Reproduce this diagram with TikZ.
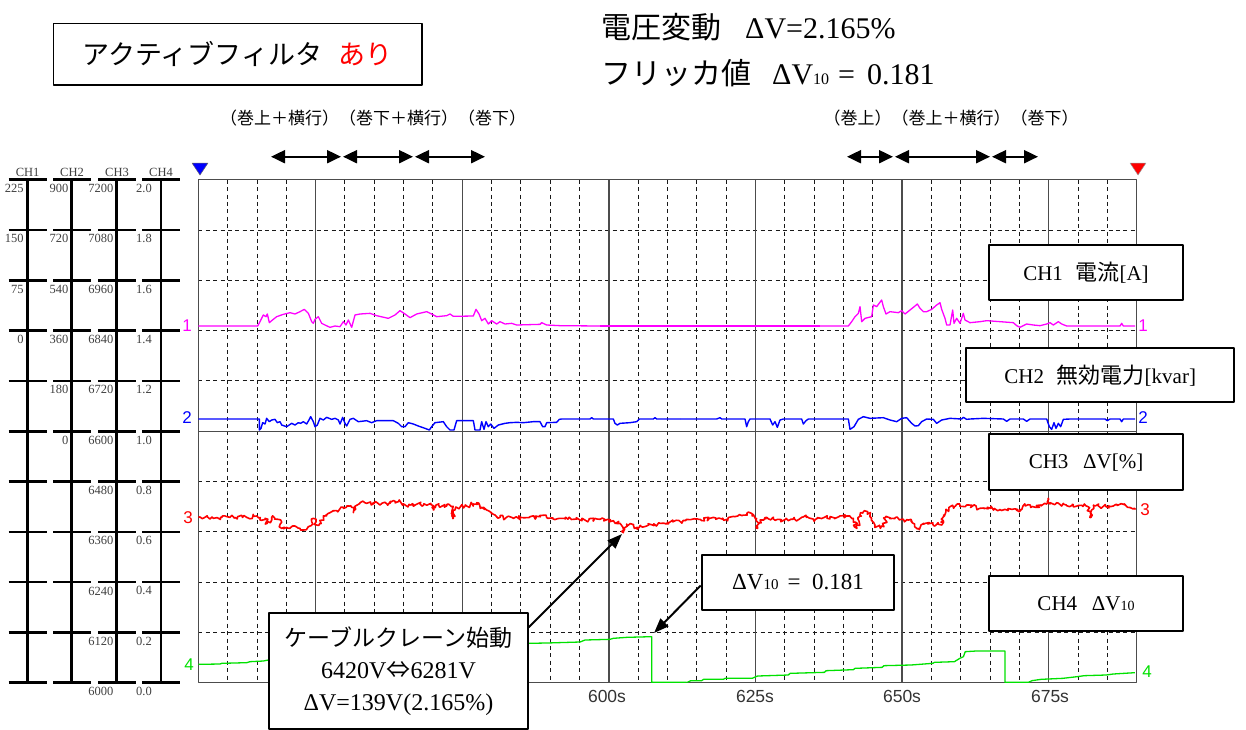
\documentclass[tikz,border=0pt]{standalone}
\usepackage{fontspec}
\setmainfont{Liberation Serif}
\newfontfamily\jp{Noto Sans CJK JP}
\newfontfamily\gs{Liberation Sans}
\usetikzlibrary{arrows.meta,decorations.pathmorphing}
\newcommand\fsz[1]{\fontsize{#1}{#1}\selectfont}
\definecolor{cmag}{RGB}{255,0,255}
\definecolor{cblu}{RGB}{0,0,255}
\definecolor{cred}{RGB}{255,0,0}
\definecolor{cgrn}{RGB}{0,225,0}
\begin{document}
\begin{tikzpicture}[x=1pt,y=-1pt,line join=round,
  dgrid/.style={black!90,line width=0.9pt,dash pattern=on 4pt off 3.4pt},
  sgrid/.style={black!70,line width=1.4pt},
  scaleln/.style={black,line width=2.6pt},
  sclab/.style={font=\fsz{12.5},text=black!75,inner sep=0pt},
  lbox/.style={draw=black,line width=2pt,fill=white,inner sep=0pt},
  tr1/.style={cmag,line width=1.3pt},
  tr2/.style={cblu,line width=1.4pt},
  tr3/.style={cred,line width=1.6pt},
  tr4/.style={cgrn,line width=1.3pt},
  noisy/.style={decorate,decoration={random steps,segment length=1.8pt,amplitude=2.2pt}},
  dbl/.style={line width=2pt,{Triangle[length=14pt,width=13pt]}-{Triangle[length=14pt,width=13pt]}},
  callout/.style={line width=2pt,-{Triangle[length=15pt,width=11pt]}},
  chnum/.style={font=\gs\fsz{17},inner sep=0pt},
  tlab/.style={font=\gs\fsz{17.5},text=black!80,inner sep=0pt}]

\fill[white] (0,0) rectangle (1246,729);
\useasboundingbox (0,0) rectangle (1246,729);

% ---------- left scale ----------
\foreach \k in {0,...,10}{
  \pgfmathsetmacro\yy{179.7+50.3*\k}
  \draw[scaleln] (8.5,\yy) -- (47,\yy) (53,\yy) -- (91,\yy) (98,\yy) -- (136,\yy) (142,\yy) -- (180,\yy);
}
\foreach \xx in {27.3,71.7,116.7,161}{\draw[scaleln] (\xx,179.7) -- (\xx,682.7);}
\node[sclab] (hc1) at (27.6,172.5) {CH1};
\node[sclab] (hc2) at (72,172.5) {CH2};
\node[sclab] (hc3) at (117,172.5) {CH3};
\node[sclab] (hc4) at (161,172.5) {CH4};
\foreach \v [count=\k from 0] in {225,150,75,0}
  \node[sclab,anchor=east] (la\k) at (23.8,{188.5+50.3*\k}) {\v};
\foreach \v [count=\k from 0] in {900,720,540,360,180,0}
  \node[sclab,anchor=east] (lb\k) at (68.5,{188.5+50.3*\k}) {\v};
\foreach \v [count=\k from 0] in {7200,7080,6960,6840,6720,6600,6480,6360,6240,6120,6000}
  \node[sclab,anchor=east] (lc\k) at (113.5,{188.5+50.3*\k}) {\v};
\foreach \v [count=\k from 0] in {2.0,1.8,1.6,1.4,1.2,1.0,0.8,0.6,0.4,0.2,0.0}
  \node[sclab,anchor=east] (ld\k) at (152,{188.5+50.3*\k}) {\v};

% ---------- plot grid ----------
\foreach \i in {1,...,31}{\draw[dgrid] ({198.3+29.325*\i},179.7) -- ({198.3+29.325*\i},682.7);}
\foreach \k in {1,2,3,4,6,7,8,9}{\draw[dgrid] (198.3,{179.7+50.3*\k}) -- (1136.7,{179.7+50.3*\k});}
\foreach \i in {4,9,14,19,24,29}{\draw[sgrid] ({198.3+29.325*\i},179.7) -- ({198.3+29.325*\i},682.7);}
\draw[sgrid] (198.3,431.2) -- (1136.7,431.2);
\draw[sgrid] (198.3,179.7) rectangle (1136.7,682.7);

% markers
\filldraw[fill=cblu,draw=black!60,line width=0.5pt] (192,163) -- (208,163) -- (200,175) -- cycle;
\filldraw[fill=cred,draw=black!40,line width=0.5pt] (1130,163) -- (1146,163) -- (1138,175) -- cycle;

% time labels
\node[tlab] (t600) at (607,696) {600s};
\node[tlab] (t625) at (755,696) {625s};
\node[tlab] (t650) at (902,696) {650s};
\node[tlab] (t675) at (1050,696) {675s};

% channel numbers
\node[chnum,text=cmag] (n1l) at (187,326) {1};
\node[chnum,text=cblu] (n2l) at (187,418) {2};
\node[chnum,text=cred] (n3l) at (188,518) {3};
\node[chnum,text=cgrn] (n4l) at (189,665) {4};
\node[chnum,text=cmag] (n1r) at (1143,326) {1};
\node[chnum,text=cblu] (n2r) at (1143,418) {2};
\node[chnum,text=cred] (n3r) at (1145,510) {3};
\node[chnum,text=cgrn] (n4r) at (1147,672) {4};

% ---------- CH1 trace ----------
\begin{scope}[shift={(180,150)},scale=1/3]
\draw[tr1] plot coordinates {(55,528) (233,528) (240,515) (250,495) (258,500) (262,492) (268,518) (275,512) (290,500) (310,493) (330,488) (345,492) (360,485) (373,478) (385,490) (395,515) (400,520) (405,508) (415,500) (425,520) (435,525) (450,532) (465,528) (480,530) (490,515) (498,525) (505,510) (515,532) (525,495) (540,492) (570,490) (590,497) (625,505) (645,495) (660,482) (675,492) (690,503) (710,492) (740,485) (755,492) (770,500) (800,497) (810,492) (820,499) (880,498) (888,478) (897,492) (905,512) (915,505) (925,522) (935,512) (950,522) (960,515) (975,522) (995,520) (1010,525) (1080,523) (1085,518) (1100,525) (1140,527) (1260,528)};
\end{scope}
\draw[tr1] (600,326) -- (820,326);
\begin{scope}[shift={(820,150)},scale=1/3]
\draw[tr1] plot coordinates {(0,528) (85,528) (95,515) (105,500) (115,490) (120,470) (125,515) (135,505) (155,500) (160,465) (170,470) (185,450) (190,470) (198,492) (210,485) (235,488) (245,482) (255,492) (270,480) (285,468) (292,462) (300,475) (310,485) (320,485) (335,478) (350,465) (360,458) (365,478) (375,505) (380,525) (390,525) (398,480) (402,520) (410,505) (420,520) (430,490) (435,510) (450,518) (480,515) (500,512) (540,515) (580,518) (590,527) (600,532) (620,522) (640,525) (660,527) (680,522) (690,518) (700,525) (715,515) (725,522) (740,528) (900,528) (905,520) (910,528) (945,528)};
\end{scope}

% ---------- CH2 trace ----------
\begin{scope}[shift={(180,380)},scale=1/3]
\draw[tr2] plot coordinates {(55,117) (238,117) (238,150) (243,145) (248,128) (255,132) (260,115) (268,125) (275,120) (285,118) (292,128) (300,125) (305,135) (320,140) (335,130) (345,135) (355,128) (362,130) (370,125) (380,132) (388,118) (392,110) (400,125) (405,140) (412,135) (420,115) (430,120) (440,112) (455,118) (465,115) (475,120) (480,132) (488,112) (495,130) (500,138) (510,118) (520,115) (535,125) (560,122) (575,128) (590,122) (640,122) (655,130) (665,140) (675,140) (685,128) (700,132) (715,138) (735,145) (748,150) (755,140) (765,128) (790,125) (800,140) (810,150) (822,150) (830,122) (880,122) (885,150) (900,150) (905,125) (912,148) (918,125) (925,140) (932,132) (942,145) (955,135) (975,130) (990,128) (1010,127) (1030,128) (1060,125) (1080,125) (1088,140) (1095,140) (1100,128) (1130,127) (1138,118) (1145,117) (1230,117) (1235,113) (1240,117) (1300,117) (1305,130) (1312,135) (1320,130) (1350,128) (1370,125) (1378,117) (1420,117) (1425,113) (1430,117) (1500,117)};
\end{scope}
\begin{scope}[shift={(650,380)},scale=1/3]
\draw[tr2] plot coordinates {(90,117) (200,117) (210,113) (215,117) (285,117) (290,140) (295,125) (300,117) (360,117) (368,135) (375,125) (382,142) (390,120) (400,117) (455,117) (460,132) (468,122) (475,117) (595,117) (600,148) (612,140) (625,118) (640,110) (660,115) (700,113) (720,120) (740,125) (755,115) (770,113) (785,130) (795,138) (805,137) (815,125) (830,117) (850,118) (860,130) (875,120) (900,115) (935,117) (940,112) (950,118) (960,117) (1000,115) (1060,117) (1070,124) (1080,117) (1120,117) (1130,124) (1140,117) (1190,117) (1198,140) (1205,148) (1212,128) (1218,145) (1225,130) (1232,140) (1240,118) (1260,117) (1365,117) (1372,122) (1380,117) (1410,117) (1415,125) (1420,117) (1455,117)};
\end{scope}

% ---------- CH3 trace ----------
\pgfmathsetseed{7}
\begin{scope}[shift={(180,430)},scale=1/3]
\draw[tr3,noisy] plot coordinates {(55,262) (100,265) (150,262) (200,262) (230,258) (240,270) (255,265) (262,280) (275,262) (295,268) (305,295) (320,292) (345,288) (360,295) (372,300) (385,290) (395,275) (400,265) (410,285) (420,280) (430,258) (445,250) (455,245) (470,242) (490,235) (500,228) (515,232) (520,248) (525,232) (540,218) (560,220) (580,218) (600,225) (630,220) (655,215) (670,222) (690,225) (720,222) (750,222) (760,240) (768,225) (800,228) (815,230) (820,265) (825,240) (830,232) (860,228) (880,222) (890,218) (905,232) (920,240) (935,248) (945,255) (960,262) (1000,265) (1050,260) (1100,262) (1140,265) (1200,270) (1260,268) (1300,272) (1320,280) (1330,308) (1340,282) (1360,285) (1370,295) (1400,288) (1440,280) (1500,274)};
\end{scope}
\begin{scope}[shift={(680,430)},xscale=1/2.77,yscale=1/3]
\draw[tr3,noisy] plot coordinates {(0,274) (50,268) (100,265) (130,268) (160,258) (185,250) (200,258) (212,265) (215,295) (222,270) (240,262) (270,268) (300,272) (350,262) (375,268) (400,262) (440,260) (470,258) (480,265) (490,295) (500,248) (520,245) (530,270) (540,285) (555,295) (565,290) (570,262) (590,265) (620,270) (640,268) (650,290) (660,295) (680,280) (700,283) (715,278) (725,285) (730,255) (745,232) (760,230) (775,222) (790,230) (800,225) (830,235) (860,235) (880,242) (900,238) (920,238) (940,245) (950,228) (970,225) (985,232) (1000,225) (1010,220) (1020,205) (1025,222) (1040,222) (1070,225) (1100,228) (1120,222) (1130,230) (1135,262) (1140,240) (1150,228) (1180,230) (1200,228) (1220,222) (1240,232) (1262,238)};
\end{scope}

% ---------- CH4 trace ----------
\begin{scope}[shift={(180,430)},scale=1/3]
\draw[tr4] plot coordinates {(55,703) (120,702) (125,700) (200,698) (210,695) (250,693) (265,690) (300,688) (600,675) (900,660) (1043,640) (1100,639) (1200,636) (1215,630) (1290,628) (1300,625) (1340,622) (1415,620) (1415,757) (1520,757)};
\end{scope}
\begin{scope}[shift={(680,430)},xscale=1/2.77,yscale=1/3]
\draw[tr4] plot coordinates {(20,757) (30,752) (60,752) (65,748) (120,748) (125,745) (200,745) (210,740) (215,738) (300,735) (305,730) (400,727) (405,722) (480,719) (485,715) (560,712) (565,707) (640,705) (700,700) (705,697) (760,695) (775,685) (785,680) (790,665) (820,663) (900,663) (900,757) (965,757) (975,752) (1000,748) (1060,745) (1100,740) (1120,737) (1180,735) (1200,732) (1260,728)};
\end{scope}

% ---------- titles ----------
\node[draw=black,line width=1.5pt,fill=white,minimum width=368.6pt,minimum height=61.7pt,inner sep=0pt] (title) at (237.7,54.2)
  {\jp\fsz{27}アクティブフィルタ\hspace{0.6em}\textcolor{cred}{あり}};
\node[anchor=west,inner sep=0pt] (hv) at (601,27)
  {\jp\fsz{30}電圧変動\hspace{0.8em}{\rmfamily\fsz{30}ΔV=2.165\%}};
\node[anchor=west,inner sep=0pt] (hf) at (601,73)
  {\jp\fsz{30}フリッカ値\hspace{0.7em}{\rmfamily\fsz{30}ΔV{\fsz{16}10}\hspace{0.3em}=\hspace{0.4em}0.181}};

% ---------- operation annotations ----------
\node[inner sep=0pt] (ann1) at (373,118) {\jp\fsz{17}（巻上＋横行）（巻下＋横行）（巻下）};
\node[inner sep=0pt] (ann2) at (951,118) {\jp\fsz{17}（巻上）（巻上＋横行）（巻下）};
\coordinate (p1) at (271,156.7); \coordinate (p2) at (341,156.7);
\coordinate (p3) at (343,156.7); \coordinate (p4) at (413,156.7);
\coordinate (p5) at (415,156.7); \coordinate (p6) at (485,156.7);
\coordinate (q1) at (847,156.7); \coordinate (q2) at (893,156.7);
\coordinate (q3) at (895,156.7); \coordinate (q4) at (990,156.7);
\coordinate (q5) at (992,156.7); \coordinate (q6) at (1038,156.7);
\draw[dbl] (p1) -- (p2);
\draw[dbl] (p3) -- (p4);
\draw[dbl] (p5) -- (p6);
\draw[dbl] (q1) -- (q2);
\draw[dbl] (q3) -- (q4);
\draw[dbl] (q5) -- (q6);

% ---------- legend boxes ----------
\node[lbox,minimum width=193.4pt,minimum height=55pt,font=\fsz{21}] (b1) at (1086,272.5)
  {CH1\hspace{0.6em}{\jp\fsz{22}電流}[A]};
\node[lbox,minimum width=268.3pt,minimum height=54pt,font=\fsz{21}] (b2) at (1100.2,375.3)
  {CH2\hspace{0.6em}{\jp\fsz{22}無効電力}[kvar]};
\node[lbox,minimum width=193.4pt,minimum height=55.7pt,font=\fsz{21}] (b3) at (1086,462.2)
  {CH3\hspace{0.7em}ΔV[\%]};
\node[lbox,minimum width=193.4pt,minimum height=55.6pt,font=\fsz{21}] (b4) at (1086,603.5)
  {CH4\hspace{0.7em}ΔV{\fsz{14}10}};

% ---------- callouts ----------
\node[lbox,minimum width=192.7pt,minimum height=55pt,font=\fsz{23}] (dv) at (798,582.5)
  {ΔV{\fsz{15}10}\hspace{0.4em}=\hspace{0.5em}0.181};
\node[lbox,minimum width=258.4pt,minimum height=115.3pt,align=center,font=\fontsize{24}{32}\selectfont] (crane) at (398.5,671)
  {{\jp\fontsize{23}{32}\selectfont ケーブルクレーン始動}\\6420V{\jp ⇔}6281V\\ΔV=139V(2.165\%)};
\coordinate (tipA) at (622,534);
\coordinate (tipB) at (654,633);
\draw[callout] ([yshift=-15pt]crane.north east) -- (tipA);
\draw[callout] ([yshift=-3pt]dv.west) -- (tipB);
\end{tikzpicture}
\end{document}
